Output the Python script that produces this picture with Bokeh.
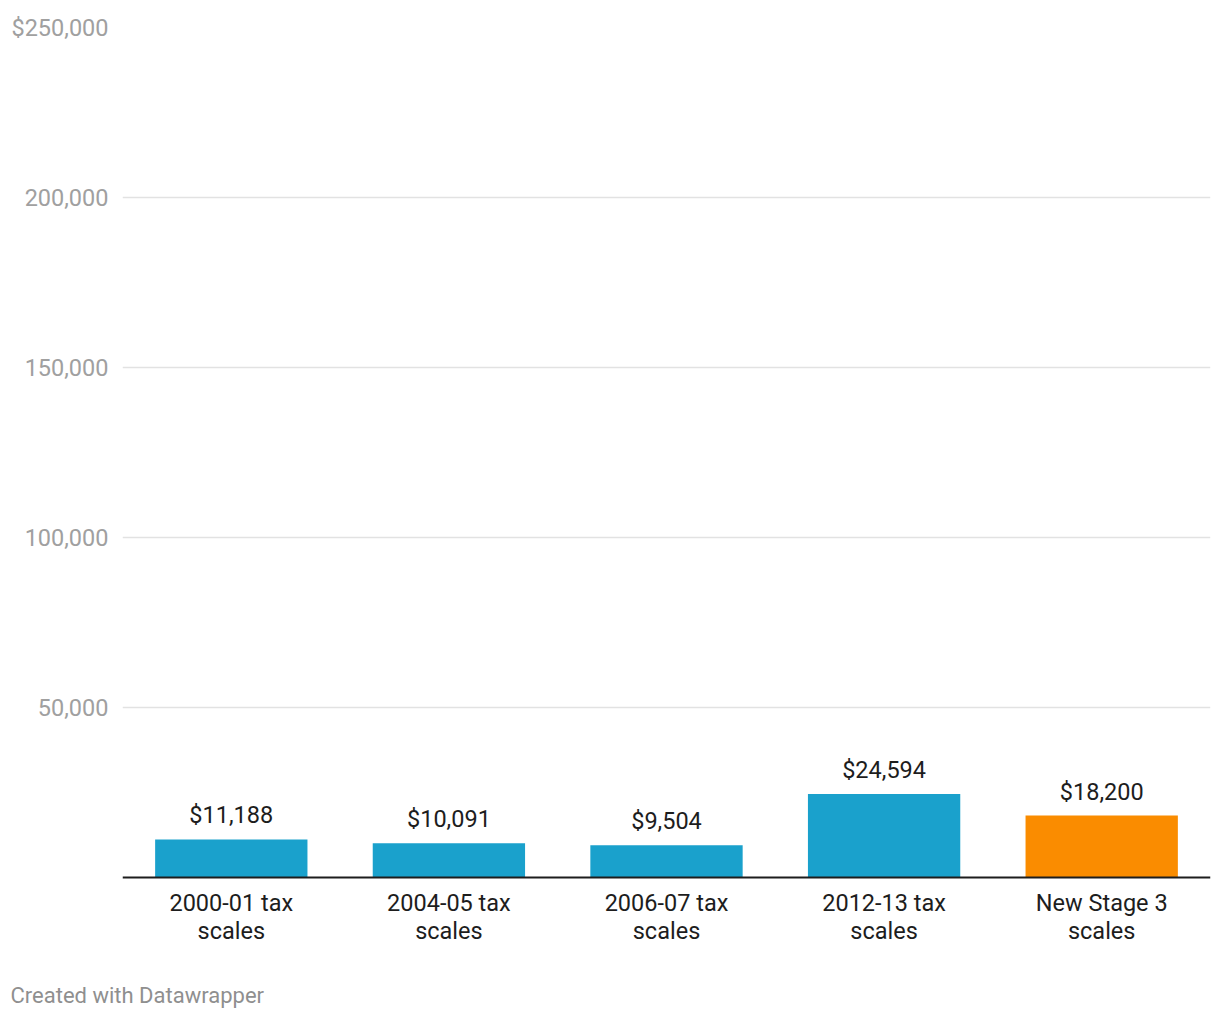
from bokeh.plotting import figure
from bokeh.models import ColumnDataSource, FixedTicker, Span, Title
from bokeh.core.properties import value
from bokeh.embed import file_html
from bokeh.resources import INLINE

categories = ["2000-01 tax scales", "2004-05 tax scales", "2006-07 tax scales", "2012-13 tax scales", "New Stage 3 scales"]
cat_line1 = ["2000-01 tax", "2004-05 tax", "2006-07 tax", "2012-13 tax", "New Stage 3"]
cat_line2 = ["scales", "scales", "scales", "scales", "scales"]
values = [11188, 10091, 9504, 24594, 18200]
value_labels = ["$11,188", "$10,091", "$9,504", "$24,594", "$18,200"]
colors = ["#1aa1cc", "#1aa1cc", "#1aa1cc", "#1aa1cc", "#fa8c00"]
y_ticks = [0, 50000, 100000, 150000, 200000, 250000]
y_tick_labels = ["", "50,000", "100,000", "150,000", "200,000", "$250,000"]

FONT = "Roboto"
DARK = "#1d1d1d"

# frame geometry: 250,000 spans 850 px; frame extended below zero to hold category labels
Y_MAX = 250000
PX_DATA = 850
FRAME_H = 940
y_start = -(FRAME_H - PX_DATA) * Y_MAX / PX_DATA

src = ColumnDataSource(dict(cat=categories, val=values, lab=value_labels, col=colors,
                            l1=cat_line1, l2=cat_line2, zero=[0] * len(categories)))

p = figure(x_range=categories, y_range=(y_start, Y_MAX), width=1212, height=1016,
           output_backend="svg", toolbar_location=None,
           min_border_left=122, min_border_right=2, min_border_top=27, min_border_bottom=1016 - 27 - FRAME_H)
p.frame_width = 1088
p.frame_height = FRAME_H
p.outline_line_color = None
p.background_fill_color = "white"
p.border_fill_color = "white"

p.vbar(x="cat", top="val", width=0.70, color="col", source=src, line_color=None)
p.text(x="cat", y="val", text="lab", source=src, text_align="center", text_baseline="middle",
       y_offset=-24, text_font=value(FONT), text_font_size="23.5px", text_color=DARK)

# baseline (x axis line)
p.add_layout(Span(location=0, dimension="width", line_color=DARK, line_width=2))

# two-line category labels
p.text(x="cat", y="zero", text="l1", source=src, text_align="center", text_baseline="middle",
       y_offset=25, text_font=value(FONT), text_font_size="23.5px", text_color=DARK)
p.text(x="cat", y="zero", text="l2", source=src, text_align="center", text_baseline="middle",
       y_offset=53, text_font=value(FONT), text_font_size="23.5px", text_color=DARK)

# y axis
yax = p.yaxis[0]
yax.ticker = FixedTicker(ticks=y_ticks)
yax.major_label_overrides = {t: l for t, l in zip(y_ticks, y_tick_labels)}
yax.axis_line_color = None
yax.major_tick_line_color = None
yax.minor_tick_line_color = None
yax.major_label_text_font = FONT
yax.major_label_text_font_size = "23.5px"
yax.major_label_text_color = "#a0a0a0"
yax.major_label_standoff = 8

p.ygrid.ticker = FixedTicker(ticks=y_ticks[1:])
p.ygrid.grid_line_color = "#e2e2e2"
p.ygrid.grid_line_width = 1.5
p.xgrid.grid_line_color = None
p.xaxis.visible = False

credit = Title(text="Created with Datawrapper", align="left", offset=-112, standoff=26,
               text_font=FONT, text_font_size="22px", text_font_style="normal",
               text_color="#8f8f8f")
p.add_layout(credit, "below")

open("out.html", "w").write(file_html(p, INLINE))
